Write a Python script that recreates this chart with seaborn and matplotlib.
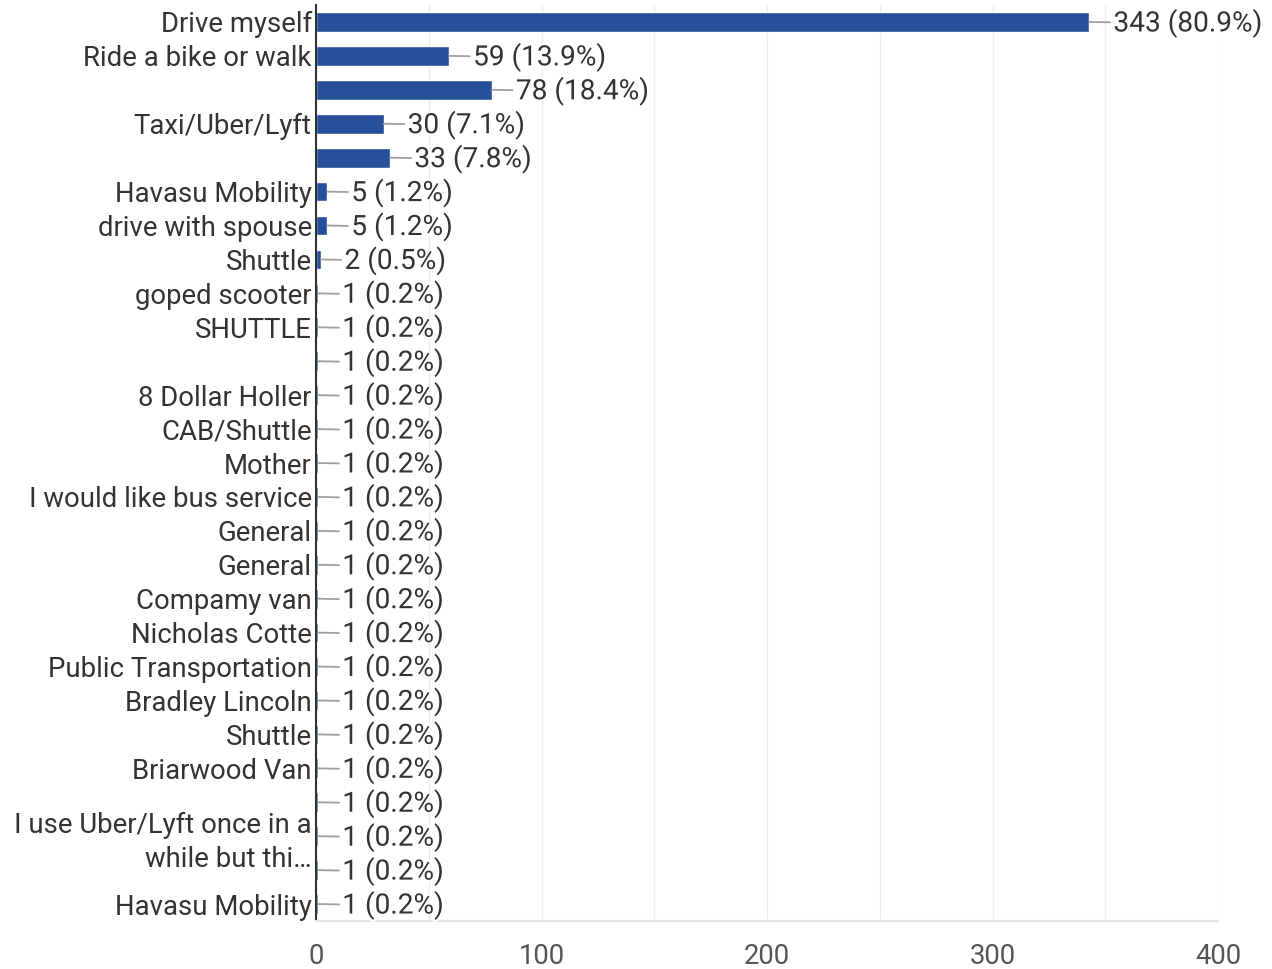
import pandas as pd
import numpy as np
import matplotlib.pyplot as plt
import matplotlib.patheffects as pe
import seaborn as sns

# ---- data ----
labels = ["Drive myself", "Ride a bike or walk", "", "Taxi/Uber/Lyft", "",
          "Havasu Mobility", "drive with spouse", "Shuttle", "goped scooter",
          "SHUTTLE", "", "8 Dollar Holler", "CAB/Shuttle", "Mother",
          "I would like bus service", "General", "General", "Compamy van",
          "Nicholas Cotte", "Public Transportation", "Bradley Lincoln",
          "Shuttle", "Briarwood Van", "",
          "I use Uber/Lyft once in a\nwhile but thi\u2026", "", "Havasu Mobility"]
counts = [343, 59, 78, 30, 33, 5, 5, 2] + [1] * 19
percents = ["80.9%", "13.9%", "18.4%", "7.1%", "7.8%", "1.2%", "1.2%", "0.5%"] + ["0.2%"] * 19

df = pd.DataFrame({"row": [f"r{i}" for i in range(len(labels))], "count": counts})

# ---- plot ----
sns.set_style("whitegrid")
plt.rcParams['font.family'] = ['Roboto', 'DejaVu Sans']
fs = 19.8

fig, ax = plt.subplots(figsize=(12.72, 9.69), dpi=100)
fig.subplots_adjust(left=316 / 1272, right=1218 / 1272, top=1 - 5 / 969, bottom=1 - 921 / 969)

sns.barplot(data=df, x="count", y="row", orient="h", color="#27509a",
            saturation=1, width=0.58, ax=ax)

ax.set_xlim(0, 400)
ax.set_ylim(len(labels) - 0.5, -0.5)
ax.set_xticks(range(0, 401, 100))
ax.set_xticks(range(50, 401, 100), minor=True)
ax.set_yticks(range(len(labels)))
ax.set_yticklabels(labels, fontsize=fs, color="#333333", linespacing=1.3)
ax.tick_params(axis="x", labelsize=fs, labelcolor="#555555", length=0, pad=16)
ax.tick_params(axis="y", length=0, pad=3)
ax.set_xlabel("")
ax.set_ylabel("")

ax.grid(False)
ax.grid(axis="x", which="both", color="#ebebeb", linewidth=1)
for s in ["top", "right"]:
    ax.spines[s].set_visible(False)
ax.spines["left"].set_color("#333333")
ax.spines["left"].set_linewidth(1.5)
ax.spines["bottom"].set_color("#e6e6e6")
ax.spines["bottom"].set_linewidth(1.5)

for i, (c, p) in enumerate(zip(counts, percents)):
    ax.annotate(f"{c} ({p})", xy=(c, i), xytext=(24, -1.5), textcoords="offset pixels",
                ha="left", va="center", fontsize=fs + 0.4, color="#333333",
                arrowprops=dict(arrowstyle="-", color="#a0a0a0", lw=1.3,
                                shrinkA=0, shrinkB=0),
                path_effects=[pe.withStroke(linewidth=3, foreground="white")],
                annotation_clip=False)

plt.savefig("out.png", dpi=100)
